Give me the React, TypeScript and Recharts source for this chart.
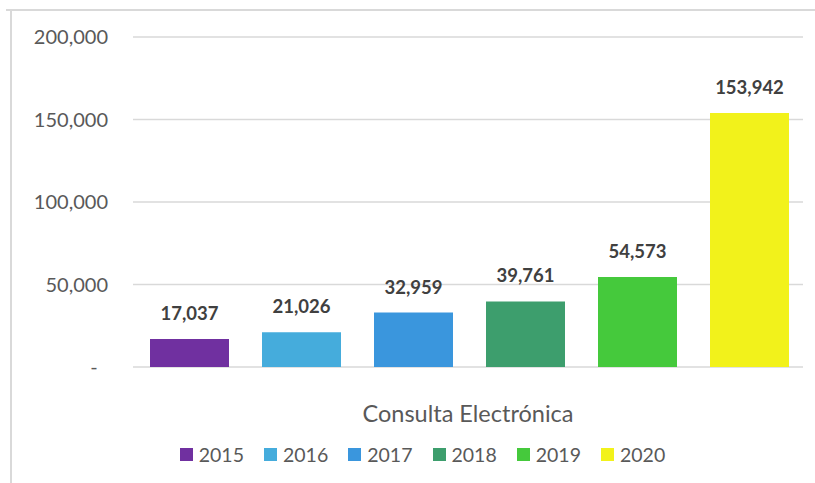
import React from "react";
import { BarChart, Bar, XAxis, YAxis, CartesianGrid, Legend, LabelList } from "recharts";

const categories = ["Consulta Electrónica"];
const years = ["2015", "2016", "2017", "2018", "2019", "2020"];
const values = [17037, 21026, 32959, 39761, 54573, 153942];
const colors = ["#7030A0", "#45ACDC", "#3A96DD", "#3D9E6D", "#45C93C", "#F2F21B"];
const yTicks = [0, 50000, 100000, 150000, 200000];

const data = categories.map((name) => {
  const row: Record<string, any> = { name };
  years.forEach((y, i) => {
    row["y" + y] = values[i];
  });
  return row;
});

const FONT = "Lato, 'Open Sans', sans-serif";

const fmt = (v: number) => (v === 0 ? "-\u00a0\u00a0" : v.toLocaleString("en-US"));

const LegendContent = () => (
  <div style={{ display: "flex", justifyContent: "center", paddingLeft: 30, fontFamily: FONT, fontSize: 19.5, color: "#595959" }}>
    {years.map((y, i) => (
      <div key={y} style={{ display: "flex", alignItems: "center", marginRight: i < years.length - 1 ? 20 : 0 }}>
        <div style={{ width: 13, height: 13, background: colors[i], marginRight: 6 }} />
        <span>{y}</span>
      </div>
    ))}
  </div>
);

export default function App() {
  return (
    <div style={{ position: "absolute", left: 0, top: 0, width: 815, height: 483, background: "#fff" }}>
      <div style={{ position: "absolute", left: 10, top: 9, width: 2, height: 474, background: "#d9d9d9" }} />
      <div style={{ position: "absolute", left: 6, top: 9, width: 809, height: 2, background: "#d9d9d9" }} />
      <BarChart
        width={815}
        height={483}
        data={data}
        margin={{ top: 37, right: 12, left: 0, bottom: 56 }}
        barCategoryGap={17}
        barGap={33}
      >
        <CartesianGrid vertical={false} stroke="#d9d9d9" strokeWidth={1.5} />
        <XAxis
          dataKey="name"
          axisLine={false}
          tickLine={false}
          tickSize={0}
          tickMargin={38}
          height={60}
          tick={{ fill: "#595959", fontSize: 23.5, fontFamily: FONT }}
        />
        <YAxis
          domain={[0, 200000]}
          ticks={yTicks}
          tickFormatter={fmt}
          axisLine={false}
          tickLine={false}
          tickSize={0}
          tickMargin={25}
          width={133}
          tick={{ fill: "#595959", fontSize: 20, fontFamily: FONT }}
        />
        <Legend
          verticalAlign="middle"
          align="center"
          layout="horizontal"
          content={<LegendContent />}
          wrapperStyle={{ top: 443, left: 0, width: 815 }}
        />
        {years.map((y, i) => (
          <Bar key={y} dataKey={"y" + y} name={y} fill={colors[i]} isAnimationActive={false}>
            <LabelList
              dataKey={"y" + y}
              position="top"
              offset={19}
              formatter={(v: any) => Number(v).toLocaleString("en-US")}
              style={{ fill: "#404040", fontSize: 18.5, fontWeight: 700, fontFamily: FONT }}
            />
          </Bar>
        ))}
      </BarChart>
    </div>
  );
}
